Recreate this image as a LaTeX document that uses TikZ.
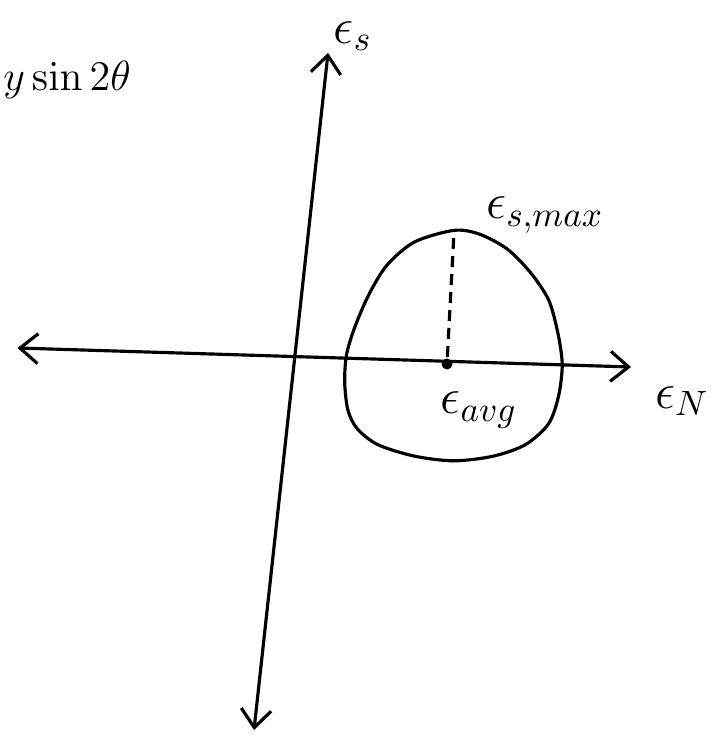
\documentclass[tikz,border=0pt]{standalone}
\usepackage{amsmath, amssymb}
\usetikzlibrary{arrows.meta}

\begin{document}
\begin{tikzpicture}[x=1mm, y=1mm, >={Straight Barb[length=1.8mm, width=3mm]}, font=\Large, line width=0.9pt]
				%Bildbereich
				\useasboundingbox (0,0) rectangle (71.2,74.9);
				% Achsen
				\coordinate (sTop) at (32.8,69.6);
				\coordinate (sBot) at (25.4,1.9);
				\coordinate (nLeft) at (1.75,40.1);
				\coordinate (nRight) at (63.1,38.2);
				\draw[<->] (sBot) -- (sTop);
				\draw[<->] (nLeft) -- (nRight);
				% Achsen beschriften
				\node[inner sep=0pt] (epsS) at (35.3,71.3) {$\epsilon_s$};
				\node (epsN) at (68.2,34.8) {$\epsilon_N$};
				\node[anchor=west, font=\large] (sinTwo) at (-1.0,66.9) {$y \sin 2\theta$};
				% Kurve
				\draw plot[smooth cycle, tension=0.5] coordinates {
					(45.39,51.86) (41.47,50.71) (38.71,48.40) (36.87,45.41) (35.48,42.18)
					(34.65,39.42) (34.47,36.65) (34.79,33.89) (35.71,32.04) (37.79,30.43)
					(41.47,29.28) (45.39,28.82) (49.31,29.28) (52.53,30.43) (54.84,32.50)
					(55.85,35.27) (56.22,38.49) (55.76,41.72) (54.84,44.95) (52.99,47.71)
					(50.69,50.02) (47.93,51.49)};
				\coordinate (topPt) at (45.4,51.7);
				% Mittelpunkt
				\node[circle, fill, inner sep=0pt, minimum size=1.1mm] (avg) at (44.7,38.5) {};
				\draw[dash pattern=on 1.1mm off 0.7mm] (avg) -- (topPt);
				%Beschriftung
				\node (epsMax) at (54.5,53.4) {$\epsilon_{s,max}$};
				\node (epsAvg) at (47.9,33.9) {$\epsilon_{avg}$};
		\end{tikzpicture}
\end{document}
